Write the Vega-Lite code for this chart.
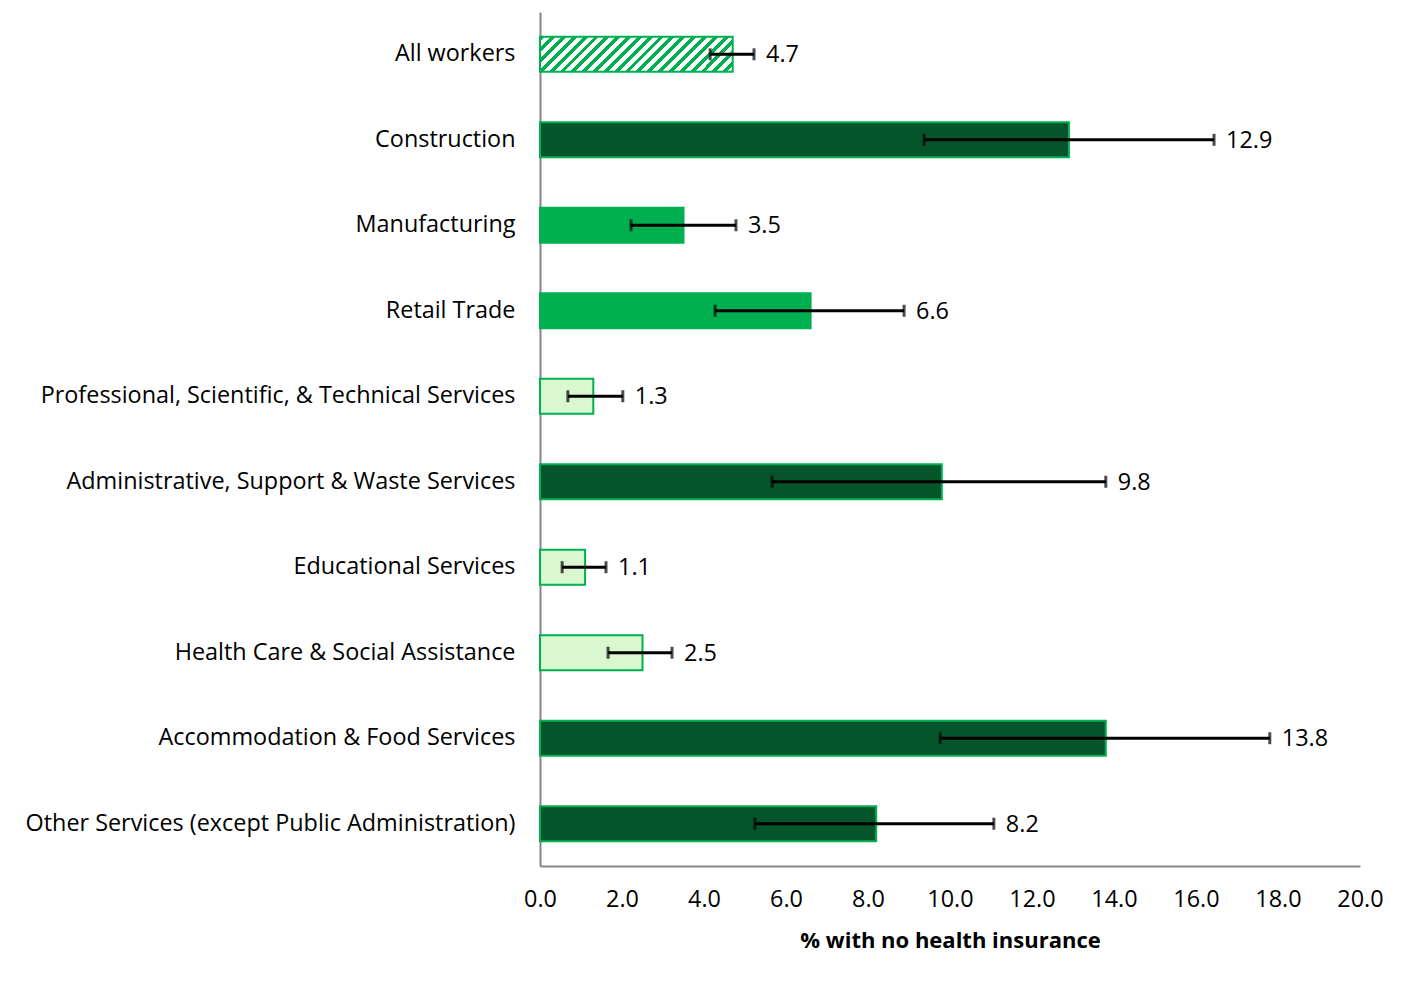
{
  "$schema": "https://vega.github.io/schema/vega-lite/v6.json",
  "autosize": {"type": "none"},
  "padding": {"left": 540, "top": 12, "right": 60, "bottom": 118},
  "width": 820,
  "height": 854,
  "background": "white",
  "config": {
    "font": "Open Sans",
    "view": {"stroke": null},
    "axis": {"labelFont": "Open Sans", "titleFont": "Open Sans", "labelColor": "#000000", "titleColor": "#000000", "grid": false, "ticks": false, "domainColor": "#868686", "domainWidth": 2}
  },
  "data": {
    "values": [
      {"industry": "All workers", "pct": 4.7, "lo": 4.15, "hi": 5.22, "tier": "all"},
      {"industry": "Construction", "pct": 12.9, "lo": 9.37, "hi": 16.44, "tier": "high"},
      {"industry": "Manufacturing", "pct": 3.5, "lo": 2.22, "hi": 4.78, "tier": "mid"},
      {"industry": "Retail Trade", "pct": 6.6, "lo": 4.27, "hi": 8.88, "tier": "mid"},
      {"industry": "Professional, Scientific, & Technical Services", "pct": 1.3, "lo": 0.68, "hi": 2.02, "tier": "low"},
      {"industry": "Administrative, Support & Waste Services", "pct": 9.8, "lo": 5.66, "hi": 13.8, "tier": "high"},
      {"industry": "Educational Services", "pct": 1.1, "lo": 0.54, "hi": 1.61, "tier": "low"},
      {"industry": "Health Care & Social Assistance", "pct": 2.5, "lo": 1.66, "hi": 3.22, "tier": "low"},
      {"industry": "Accommodation & Food Services", "pct": 13.8, "lo": 9.76, "hi": 17.8, "tier": "high"},
      {"industry": "Other Services (except Public Administration)", "pct": 8.2, "lo": 5.24, "hi": 11.07, "tier": "high"}
    ]
  },
  "encoding": {
    "y": {
      "field": "industry", "type": "nominal",
      "sort": ["All workers", "Construction", "Manufacturing", "Retail Trade", "Professional, Scientific, & Technical Services", "Administrative, Support & Waste Services", "Educational Services", "Health Care & Social Assistance", "Accommodation & Food Services", "Other Services (except Public Administration)"],
      "scale": {"paddingInner": 0.59, "paddingOuter": 0.29},
      "axis": {"title": null, "labelFontSize": 23.4, "labelPadding": 25, "labelLimit": 600}
    }
  },
  "layer": [
    {
      "transform": [{"filter": "datum.tier !== 'all'"}],
      "mark": {"type": "bar", "stroke": "#00B050", "strokeWidth": 2},
      "encoding": {
        "x": {
          "field": "pct", "type": "quantitative",
          "scale": {"domain": [0, 20], "nice": false},
          "axis": {"title": "% with no health insurance", "titleFontSize": 22, "titleFontWeight": "bold", "titlePadding": 20, "labelFontSize": 23.4, "labelPadding": 22, "values": [0, 2, 4, 6, 8, 10, 12, 14, 16, 18, 20], "format": ".1f", "labelFlush": false}
        },
        "fill": {
          "field": "tier", "type": "nominal", "legend": null,
          "scale": {"domain": ["high", "mid", "low"], "range": ["#04552A", "#00B050", "#D9F8D0"]}
        }
      }
    },
    {
      "transform": [{"filter": "datum.tier === 'all'"}],
      "mark": {
        "type": "bar", "stroke": "#00B050", "strokeWidth": 2,
        "fill": {
          "gradient": "linear", "x1": 0, "y1": 0, "x2": 1.1439, "y2": 0.2077,
          "stops": [
            {"offset": 0, "color": "#00B050"}, {"offset": 0.0214, "color": "#00B050"}, {"offset": 0.0214, "color": "#FFFFFF"}, {"offset": 0.0476, "color": "#FFFFFF"},
            {"offset": 0.0476, "color": "#00B050"}, {"offset": 0.0690, "color": "#00B050"}, {"offset": 0.0690, "color": "#FFFFFF"}, {"offset": 0.0952, "color": "#FFFFFF"},
            {"offset": 0.0952, "color": "#00B050"}, {"offset": 0.1167, "color": "#00B050"}, {"offset": 0.1167, "color": "#FFFFFF"}, {"offset": 0.1429, "color": "#FFFFFF"},
            {"offset": 0.1429, "color": "#00B050"}, {"offset": 0.1643, "color": "#00B050"}, {"offset": 0.1643, "color": "#FFFFFF"}, {"offset": 0.1905, "color": "#FFFFFF"},
            {"offset": 0.1905, "color": "#00B050"}, {"offset": 0.2119, "color": "#00B050"}, {"offset": 0.2119, "color": "#FFFFFF"}, {"offset": 0.2381, "color": "#FFFFFF"},
            {"offset": 0.2381, "color": "#00B050"}, {"offset": 0.2595, "color": "#00B050"}, {"offset": 0.2595, "color": "#FFFFFF"}, {"offset": 0.2857, "color": "#FFFFFF"},
            {"offset": 0.2857, "color": "#00B050"}, {"offset": 0.3071, "color": "#00B050"}, {"offset": 0.3071, "color": "#FFFFFF"}, {"offset": 0.3333, "color": "#FFFFFF"},
            {"offset": 0.3333, "color": "#00B050"}, {"offset": 0.3548, "color": "#00B050"}, {"offset": 0.3548, "color": "#FFFFFF"}, {"offset": 0.3810, "color": "#FFFFFF"},
            {"offset": 0.3810, "color": "#00B050"}, {"offset": 0.4024, "color": "#00B050"}, {"offset": 0.4024, "color": "#FFFFFF"}, {"offset": 0.4286, "color": "#FFFFFF"},
            {"offset": 0.4286, "color": "#00B050"}, {"offset": 0.4500, "color": "#00B050"}, {"offset": 0.4500, "color": "#FFFFFF"}, {"offset": 0.4762, "color": "#FFFFFF"},
            {"offset": 0.4762, "color": "#00B050"}, {"offset": 0.4976, "color": "#00B050"}, {"offset": 0.4976, "color": "#FFFFFF"}, {"offset": 0.5238, "color": "#FFFFFF"},
            {"offset": 0.5238, "color": "#00B050"}, {"offset": 0.5452, "color": "#00B050"}, {"offset": 0.5452, "color": "#FFFFFF"}, {"offset": 0.5714, "color": "#FFFFFF"},
            {"offset": 0.5714, "color": "#00B050"}, {"offset": 0.5929, "color": "#00B050"}, {"offset": 0.5929, "color": "#FFFFFF"}, {"offset": 0.6190, "color": "#FFFFFF"},
            {"offset": 0.6190, "color": "#00B050"}, {"offset": 0.6405, "color": "#00B050"}, {"offset": 0.6405, "color": "#FFFFFF"}, {"offset": 0.6667, "color": "#FFFFFF"},
            {"offset": 0.6667, "color": "#00B050"}, {"offset": 0.6881, "color": "#00B050"}, {"offset": 0.6881, "color": "#FFFFFF"}, {"offset": 0.7143, "color": "#FFFFFF"},
            {"offset": 0.7143, "color": "#00B050"}, {"offset": 0.7357, "color": "#00B050"}, {"offset": 0.7357, "color": "#FFFFFF"}, {"offset": 0.7619, "color": "#FFFFFF"},
            {"offset": 0.7619, "color": "#00B050"}, {"offset": 0.7833, "color": "#00B050"}, {"offset": 0.7833, "color": "#FFFFFF"}, {"offset": 0.8095, "color": "#FFFFFF"},
            {"offset": 0.8095, "color": "#00B050"}, {"offset": 0.8310, "color": "#00B050"}, {"offset": 0.8310, "color": "#FFFFFF"}, {"offset": 0.8571, "color": "#FFFFFF"},
            {"offset": 0.8571, "color": "#00B050"}, {"offset": 0.8786, "color": "#00B050"}, {"offset": 0.8786, "color": "#FFFFFF"}, {"offset": 0.9048, "color": "#FFFFFF"},
            {"offset": 0.9048, "color": "#00B050"}, {"offset": 0.9262, "color": "#00B050"}, {"offset": 0.9262, "color": "#FFFFFF"}, {"offset": 0.9524, "color": "#FFFFFF"},
            {"offset": 0.9524, "color": "#00B050"}, {"offset": 0.9738, "color": "#00B050"}, {"offset": 0.9738, "color": "#FFFFFF"}, {"offset": 1, "color": "#FFFFFF"}
          ]
        }
      },
      "encoding": {
        "x": {"field": "pct", "type": "quantitative"}
      }
    },
    {
      "mark": {"type": "rule", "color": "#000000", "strokeWidth": 3},
      "encoding": {
        "x": {"field": "lo", "type": "quantitative"},
        "x2": {"field": "hi"}
      }
    },
    {
      "mark": {"type": "tick", "color": "#000000", "thickness": 3, "size": 12, "orient": "vertical"},
      "encoding": {
        "x": {"field": "lo", "type": "quantitative"}
      }
    },
    {
      "mark": {"type": "tick", "color": "#000000", "thickness": 3, "size": 12, "orient": "vertical"},
      "encoding": {
        "x": {"field": "hi", "type": "quantitative"}
      }
    },
    {
      "mark": {"type": "text", "align": "left", "baseline": "middle", "dx": 12, "dy": 1, "fontSize": 23.4, "font": "Open Sans", "color": "#000000"},
      "encoding": {
        "x": {"field": "hi", "type": "quantitative"},
        "text": {"field": "pct", "type": "quantitative", "format": ".1f"}
      }
    }
  ]
}
